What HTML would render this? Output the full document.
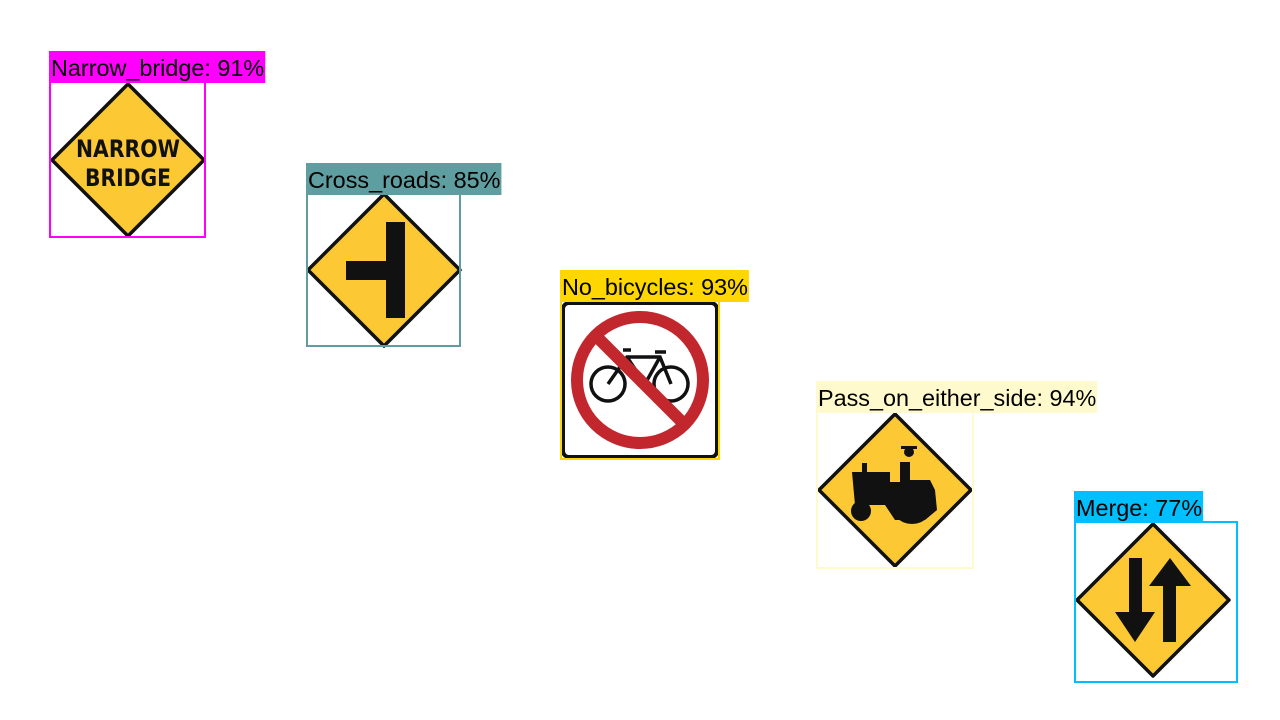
<!DOCTYPE html>
<html><head><meta charset="utf-8"><style>
html,body{margin:0;padding:0;background:#fff;width:1280px;height:720px;overflow:hidden}
svg{display:block}
text{font-family:"Liberation Sans",Arial,sans-serif}
</style></head><body>
<svg id="c" width="1280" height="720">
<defs>
<g id="dia"><path d="M0,-76 L76,0 L0,76 L-76,0 Z" fill="#fcc934" stroke="#111" stroke-width="3.5" stroke-linejoin="round"/></g>
</defs>
<g transform="translate(128,160)">
<use href="#dia"/>
<text x="0" y="-3" text-anchor="middle" font-size="24" font-weight="bold" fill="#111" textLength="104" lengthAdjust="spacingAndGlyphs" style="font-family:'DejaVu Sans Condensed','Liberation Sans',sans-serif">NARROW</text>
<text x="0" y="26" text-anchor="middle" font-size="24" font-weight="bold" fill="#111" textLength="86" lengthAdjust="spacingAndGlyphs" style="font-family:'DejaVu Sans Condensed','Liberation Sans',sans-serif">BRIDGE</text>
</g>
<g transform="translate(384,270)">
<use href="#dia"/>
<rect x="2" y="-48" width="19" height="96" fill="#111"/>
<rect x="-38" y="-9" width="42" height="19" fill="#111"/>
</g>
<g>
<rect x="563" y="303" width="154" height="154" rx="6" fill="#fff" stroke="#111" stroke-width="4"/>
<circle cx="640" cy="380" r="63" fill="none" stroke="#c1272d" stroke-width="12"/>
<g stroke="#111" stroke-width="3.5" fill="none">
<circle cx="608" cy="384" r="17"/><circle cx="671" cy="384" r="17"/>
<path d="M608,384 L627,357 L660,357 L671,384 M627,357 L645,384 L660,357 M623,350 L631,350 M655,352 L666,352"/>
</g>
<line x1="596" y1="336" x2="684" y2="424" stroke="#c1272d" stroke-width="12"/>
</g>
<g transform="translate(895,490)">
<use href="#dia"/>
<path d="M-43,-18 L-5,-18 L-5,-8 L5,-8 L5,-28 L15,-28 L15,-10 L35,-10 L40,0 L42,20 L30,30 L0,30 L-10,15 L-40,15 Z" fill="#111"/>
<rect x="-33" y="-27" width="5" height="12" fill="#111"/>
<circle cx="-34" cy="21" r="10" fill="#111"/>
<circle cx="17" cy="12" r="22" fill="#111"/>
<circle cx="14" cy="-38" r="5" fill="#111"/>
<rect x="6" y="-44" width="16" height="3" fill="#111"/>
</g>
<g transform="translate(1153,600)">
<use href="#dia"/>
<path d="M-24,-42 L-11,-42 L-11,12 L2,12 L-18,42 L-38,12 L-24,12 Z" fill="#111"/>
<path d="M10,42 L23,42 L23,-14 L38,-14 L17,-42 L-4,-14 L10,-14 Z" fill="#111"/>
</g>
<g id="dets"></g>
</svg>
<script>
const labels=["Narrow_bridge","Cross_roads","No_bicycles","Pass_on_either_side","Merge"];
const scores=[91,85,93,94,77];
const boxX=[50,307,561,817,1075];
const boxY=[82,194,301,412,522];
const boxW=[155,153,158,156,162];
const boxH=[155,152,158,156,160];
const colors=["#ff00ff","#5f9ea0","#ffd700","#fffacd","#00bfff"];
const NS="http://www.w3.org/2000/svg";
const g=document.getElementById('dets');
labels.forEach((l,i)=>{
  const r=document.createElementNS(NS,'rect');
  
  
  r.setAttribute('x',boxX[i]);r.setAttribute('y',boxY[i]);
  r.setAttribute('width',boxW[i]);r.setAttribute('height',boxH[i]);
  r.setAttribute('fill','none');r.setAttribute('stroke',colors[i]);r.setAttribute('stroke-width','2');
  g.appendChild(r);
  const t=document.createElementNS(NS,'text');
  
  
  t.setAttribute('x',boxX[i]+1);t.setAttribute('y',boxY[i]-6);
  t.setAttribute('font-size','23.4');t.setAttribute('fill','#000');
  t.textContent=l+': '+scores[i]+'%';
  g.appendChild(t);
  const w=t.getComputedTextLength();
  const b=document.createElementNS(NS,'rect');
  
  
  b.setAttribute('x',boxX[i]-1);b.setAttribute('y',boxY[i]-31);
  b.setAttribute('width',w+3);b.setAttribute('height',32);
  b.setAttribute('fill',colors[i]);
  g.insertBefore(b,t);
});
</script>
</body></html>
